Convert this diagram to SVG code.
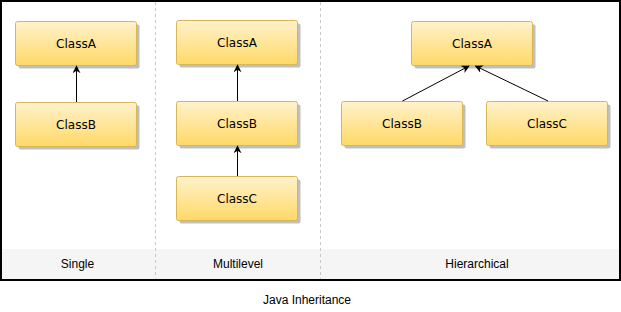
<svg xmlns="http://www.w3.org/2000/svg" width="621" height="312" viewBox="0 0 621 312">
<style>
.box{fill:url(#g);stroke:#d6b656;stroke-width:1}
.sh{fill:#000;opacity:0.25}
.t{font-family:"DejaVu Sans",Verdana,sans-serif;font-size:12px;fill:#000;text-anchor:middle}
.l{font-family:"Liberation Sans",Arial,sans-serif;font-size:12px;fill:#000;text-anchor:middle}
.c{stroke:#000;stroke-width:1;fill:none;marker-end:url(#a)}
.d{stroke:#c8c8c8;stroke-width:1;stroke-dasharray:3 3;fill:none}
</style>
<defs>
<linearGradient id="g" x1="0" y1="0" x2="0" y2="1">
<stop offset="0" stop-color="#fff2cc"/>
<stop offset="1" stop-color="#ffd966"/>
</linearGradient>
<marker id="a" viewBox="0 0 10 10" refX="9" refY="5" markerWidth="8" markerHeight="8" orient="auto" markerUnits="userSpaceOnUse">
<path d="M0,0 L10,5 L0,10 L3,5 Z" fill="#000"/>
</marker>
</defs>
<rect x="0" y="0" width="621" height="312" fill="#fff"/>
<rect x="1" y="249" width="618" height="30" fill="#f5f5f5"/>
<g id="dividers">
<line class="d" x1="155.5" y1="2" x2="155.5" y2="279"/>
<line class="d" x1="320.5" y1="2" x2="320.5" y2="279"/>
</g>
<rect x="1" y="1" width="619" height="279" fill="none" stroke="#000" stroke-width="2"/>
<g id="s-ClassA"><rect class="sh" x="18.5" y="24.5" width="121" height="44" rx="2"/><rect class="box" x="15.5" y="21.5" width="121" height="44" rx="2"/><text class="t" x="76" y="48">ClassA</text></g>
<g id="s-ClassB"><rect class="sh" x="18.5" y="105.5" width="121" height="44" rx="2"/><rect class="box" x="15.5" y="102.5" width="121" height="44" rx="2"/><text class="t" x="76" y="129">ClassB</text></g>
<g id="m-ClassA"><rect class="sh" x="179.5" y="23.5" width="121" height="44" rx="2"/><rect class="box" x="176.5" y="20.5" width="121" height="44" rx="2"/><text class="t" x="237" y="47">ClassA</text></g>
<g id="m-ClassB"><rect class="sh" x="179.5" y="104.5" width="121" height="44" rx="2"/><rect class="box" x="176.5" y="101.5" width="121" height="44" rx="2"/><text class="t" x="237" y="128">ClassB</text></g>
<g id="m-ClassC"><rect class="sh" x="179.5" y="179.5" width="121" height="44" rx="2"/><rect class="box" x="176.5" y="176.5" width="121" height="44" rx="2"/><text class="t" x="237" y="203">ClassC</text></g>
<g id="h-ClassA"><rect class="sh" x="414.5" y="24.5" width="121" height="44" rx="2"/><rect class="box" x="411.5" y="21.5" width="121" height="44" rx="2"/><text class="t" x="472" y="48">ClassA</text></g>
<g id="h-ClassB"><rect class="sh" x="344.5" y="104.5" width="121" height="44" rx="2"/><rect class="box" x="341.5" y="101.5" width="121" height="44" rx="2"/><text class="t" x="402" y="128">ClassB</text></g>
<g id="h-ClassC"><rect class="sh" x="489.5" y="104.5" width="121" height="44" rx="2"/><rect class="box" x="486.5" y="101.5" width="121" height="44" rx="2"/><text class="t" x="547" y="128">ClassC</text></g>
<g id="connectors">
<line class="c" x1="76.5" y1="102" x2="76.5" y2="66"/>
<line class="c" x1="237.5" y1="101" x2="237.5" y2="65"/>
<line class="c" x1="237.5" y1="176" x2="237.5" y2="146"/>
<line class="c" x1="402.5" y1="101" x2="469" y2="66"/>
<line class="c" x1="548" y1="101" x2="475.5" y2="66"/>
</g>
<g id="labels">
<text class="l" x="77.5" y="268">Single</text>
<text class="l" x="238" y="268">Multilevel</text>
<text class="l" x="477" y="268">Hierarchical</text>
<text class="l" x="307" y="304">Java Inheritance</text>
</g>
</svg>
